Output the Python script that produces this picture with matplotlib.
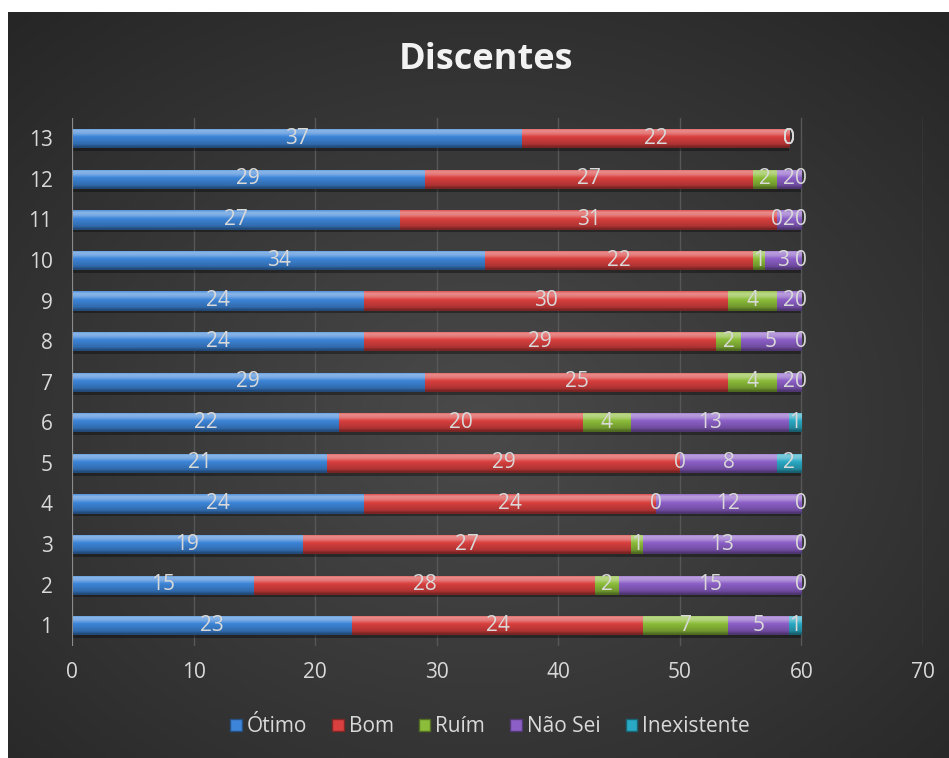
import numpy as np
import matplotlib
matplotlib.use("Agg")
import matplotlib.pyplot as plt
from matplotlib.colors import LinearSegmentedColormap, to_rgb
from matplotlib.patches import Patch

plt.rcParams["font.family"] = ["Open Sans", "DejaVu Sans"]

categories = [str(i) for i in range(1, 14)]
series_names = ["Ótimo", "Bom", "Ruím", "Não Sei", "Inexistente"]
otimo = [23, 15, 19, 24, 21, 22, 29, 24, 24, 34, 27, 29, 37]
bom = [24, 28, 27, 24, 29, 20, 25, 29, 30, 22, 31, 27, 22]
ruim = [7, 2, 1, 0, 0, 4, 4, 2, 4, 1, 0, 2, 0]
nao_sei = [5, 15, 13, 12, 8, 13, 2, 5, 2, 3, 2, 2, 0]
inexistente = [1, 0, 0, 0, 2, 1, 0, 0, 0, 0, 0, 0, 0]
xticks = [0, 10, 20, 30, 40, 50, 60, 70]

colors = ["#3d85d8", "#d9403f", "#8cbd3a", "#8c5fc7", "#2aa9c4"]
text_col = "#d9d9d9"

W, H = 949, 758
fig = plt.figure(figsize=(W / 100, H / 100), dpi=100)
fig.patch.set_facecolor("white")

# radial dark background
bg = fig.add_axes([8 / W, 0, (W - 8) / W, (H - 12) / H])
yy, xx = np.mgrid[0:1:300j, 0:1:380j]
r = np.sqrt(((xx - 0.5) / 0.75) ** 2 + ((yy - 0.45) / 0.75) ** 2)
r = np.clip(r, 0, 1)
bg_cmap = LinearSegmentedColormap.from_list("bg", ["#4a4a4a", "#262626"])
bg.imshow(r, cmap=bg_cmap, aspect="auto", extent=[0, 1, 0, 1], origin="lower")
bg.set_axis_off()

ax = fig.add_axes([72 / W, 1 - 645.5 / H, 851 / W, 527.5 / H])
ax.set_facecolor("none")

y = np.arange(len(categories))
bar_h = 0.45
series = [otimo, bom, ruim, nao_sei, inexistente]


def shade(c, f):
    c = np.array(to_rgb(c))
    if f >= 0:
        return tuple(c + (1 - c) * f)
    return tuple(c * (1 + f))


left = np.zeros(len(categories))
for name, vals, col in zip(series_names, series, colors):
    vals = np.array(vals, dtype=float)
    # soft shadow under each bar
    ax.barh(y - 0.09, vals, left=left, height=bar_h, color="black",
            alpha=0.35, zorder=2, linewidth=0)
    cont = ax.barh(y, vals, left=left, height=bar_h, color=col,
                   edgecolor=shade(col, -0.45), linewidth=0.6, zorder=3,
                   label=name)
    cmap = LinearSegmentedColormap.from_list(
        name, [(0.0, shade(col, -0.45)), (0.15, shade(col, -0.2)),
               (0.55, col), (0.72, shade(col, 0.3)), (0.88, shade(col, 0.4)),
               (1.0, shade(col, 0.1))])
    grad = np.linspace(0, 1, 64).reshape(-1, 1)
    for rect in cont.patches:
        x0, y0 = rect.get_x(), rect.get_y()
        w, h = rect.get_width(), rect.get_height()
        if w <= 0:
            continue
        im = ax.imshow(grad, cmap=cmap, aspect="auto", origin="lower",
                       extent=[x0, x0 + w, y0, y0 + h], zorder=3.5)
        im.set_clip_path(rect)
    ax.bar_label(cont, labels=[f"{int(v)}" for v in vals], label_type="center",
                 color=text_col, fontsize=15, zorder=5)
    left += vals

ax.set_xlim(0, 70)
ax.set_ylim(-0.5, len(categories) - 0.5)
ax.set_xticks(xticks)
ax.set_yticks(y)
ax.set_yticklabels(categories)
ax.tick_params(axis="both", colors=text_col, labelsize=15, length=0)
ax.tick_params(axis="x", pad=12)
ax.tick_params(axis="y", pad=14)
ax.grid(axis="x", color="#575757", linewidth=1, zorder=0)
ax.set_axisbelow(True)
for s in ax.spines.values():
    s.set_visible(False)
ax.axvline(0, color="#8a8a8a", linewidth=1.5, zorder=4)

fig.text(486 / W, 1 - 60 / H, "Discentes", ha="center", va="center",
         fontsize=26, fontweight="bold", color="#f2f2f2")

handles = [Patch(facecolor=c, edgecolor=shade(c, -0.4), label=n)
           for n, c in zip(series_names, colors)]
fig.legend(handles=handles, loc="center", bbox_to_anchor=(490 / W, 1 - 727 / H),
           ncol=5, frameon=False, fontsize=15, labelcolor=text_col,
           handlelength=0.55, handleheight=0.55, handletextpad=0.25,
           columnspacing=1.2)

fig.savefig("out.png", dpi=100)
